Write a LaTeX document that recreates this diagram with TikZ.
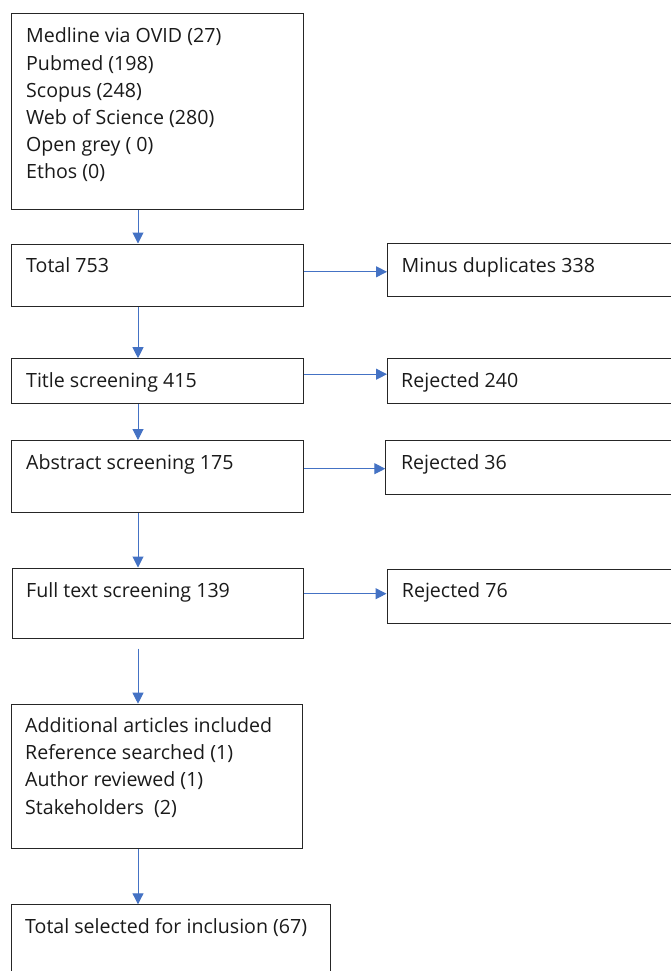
\documentclass[tikz,border=0pt]{standalone}
\usepackage{fontspec}
\setmainfont{Open Sans}
\usetikzlibrary{arrows.meta,calc}
\definecolor{arrblue}{HTML}{4472C4}
\definecolor{boxline}{HTML}{262626}
\definecolor{txtcol}{HTML}{1A1A1A}
\begin{document}
\begin{tikzpicture}[x=1pt,y=-1pt,
  box/.style={draw=boxline, line width=1.1pt, anchor=north west, inner sep=0pt, fill=none},
  txt/.style={anchor=north west, inner sep=0pt, align=left, text=txtcol,
    font=\fontsize{19.6}{27.2}\selectfont},
  arr/.style={draw=arrblue, line width=1pt, -{Triangle[length=11pt,width=11pt]}}]
\useasboundingbox (0,0) rectangle (671,971);
\clip (0,0) rectangle (671,971);
\fill[white] (0,0) rectangle (671,971);
% left column boxes
\node[box, minimum width=291.5pt, minimum height=196pt] (b1) at (11,13.3) {};
\node[box, minimum width=291.5pt, minimum height=62.5pt] (b2) at (11,243.5) {};
\node[box, minimum width=291.5pt, minimum height=44.5pt] (b3) at (11,358.2) {};
\node[box, minimum width=291.5pt, minimum height=72pt] (b4) at (11,440) {};
\node[box, minimum width=291pt, minimum height=70.5pt] (b5) at (11.5,567.5) {};
\node[box, minimum width=291.5pt, minimum height=144.5pt] (b6) at (10.5,703.7) {};
\node[box, minimum width=319.5pt, minimum height=80pt] (b7) at (10.5,904.3) {};
% right column boxes
\node[box, minimum width=300pt, minimum height=53pt] (m1) at (387,243.3) {};
\node[box, minimum width=300pt, minimum height=44.5pt] (r1) at (387,358) {};
\node[box, minimum width=300pt, minimum height=54.5pt] (r2) at (385.3,439.5) {};
\node[box, minimum width=300pt, minimum height=54.5pt] (r3) at (386.5,568.7) {};
% texts
\node[txt] (t1) at ($(b1.north west)+(15,10.4)$) {\strut Medline via OVID (27)\\Pubmed (198)\\Scopus (248)\\Web of Science (280)\\Open grey ( 0)\\Ethos (0)};
\node[txt] (t2) at ($(b2.north west)+(15,9.8)$) {\strut Total 753};
\node[txt] (t3) at ($(b3.north west)+(15,9.8)$) {\strut Title screening 415};
\node[txt] (t4) at ($(b4.north west)+(15,9.8)$) {\strut Abstract screening 175};
\node[txt] (t5) at ($(b5.north west)+(14.5,10.3)$) {\strut Full text screening 139};
\node[txt] (t6) at ($(b6.north west)+(14.5,9.5)$) {\strut Additional articles included\\Reference searched (1)\\Author reviewed (1)\\Stakeholders\ \ (2)};
\node[txt] (t7) at ($(b7.north west)+(14.5,9.9)$) {\strut Total selected for inclusion (67)};
\node[txt] (tm1) at ($(m1.north west)+(14.5,10.3)$) {\strut Minus duplicates 338};
\node[txt] (tr1) at ($(r1.north west)+(14,9.9)$) {\strut Rejected 240};
\node[txt] (tr2) at ($(r2.north west)+(15.5,10.4)$) {\strut Rejected 36};
\node[txt] (tr3) at ($(r3.north west)+(15.2,9.9)$) {\strut Rejected 76};
% vertical arrows
\draw[arr] ($(b1.south west)+(127,0)$) -- ($(b2.north west)+(127,0)$);
\draw[arr] ($(b2.south west)+(127,0)$) -- ($(b3.north west)+(127,0)$);
\draw[arr] ($(b3.south west)+(127,0)$) -- ($(b4.north west)+(127,0)$);
\draw[arr] ($(b4.south west)+(127,0)$) -- ($(b5.north west)+(126.5,0)$);
\coordinate (g5) at ($(b5.south west)+(126.5,9.5)$);
\draw[arr] (g5) -- ($(b6.north west)+(127.5,0)$);
\draw[arr] ($(b6.south west)+(127.5,0)$) -- ($(b7.north west)+(127.5,0)$);
% horizontal arrows
\coordinate (h2) at ($(b2.north east)+(0,28.3)$);
\draw[arr] (h2) -- (h2 -| m1.west);
\coordinate (h3) at ($(b3.north east)+(0,16)$);
\draw[arr] (h3) -- (h3 -| r1.west);
\coordinate (h4) at ($(b4.north east)+(0,28.7)$);
\draw[arr] (h4) -- (h4 -| r2.west);
\coordinate (h5) at ($(b5.north east)+(0,26.2)$);
\draw[arr] (h5) -- (h5 -| r3.west);
\end{tikzpicture}
\end{document}
